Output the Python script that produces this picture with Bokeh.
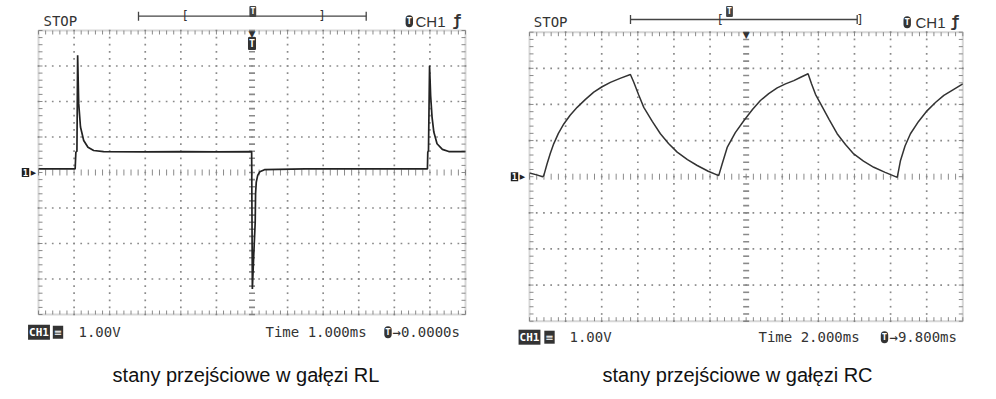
import numpy as np
from bokeh.plotting import figure
from bokeh.layouts import row
from bokeh.models import Label, Range1d, BoxAnnotation
from bokeh.embed import file_html
from bokeh.resources import INLINE

# ---------------- data (time in ms relative to screen centre, volts) ----------------
# RL branch: 1.00 V/div, 1.000 ms/div
rl_t = [-6.0, -5.5, -4.97, -4.95, -4.92, -4.90, -4.87, -4.82, -4.73, -4.61, -4.45, -4.17, -3.0, -2.0, -1.0, -0.01,
        0.01, 0.05, 0.09, 0.10, 0.12, 0.16, 0.22, 0.35, 1.5, 3.0, 4.93,
        4.94, 4.96, 4.99, 5.02, 5.06, 5.11, 5.20, 5.35, 5.53, 6.0]
rl_v = [0.10, 0.10, 0.10, 0.57, 0.60, 3.30, 1.94, 1.28, 0.90, 0.71, 0.62, 0.59, 0.58, 0.59, 0.58, 0.59,
        -3.28, -2.30, -1.40, -0.60, -0.27, -0.08, 0.02, 0.08, 0.10, 0.10, 0.10,
        0.57, 0.62, 3.01, 2.17, 1.56, 1.14, 0.81, 0.65, 0.59, 0.59]

# RC branch: 1.00 V/div, 2.000 ms/div
rc_t = [-12.0, -11.6, -11.27, -11.21, -11.03, -10.85, -10.66, -10.40, -10.10, -9.75, -9.36, -8.90, -8.44, -7.98, -7.52, -6.95, -6.41,
        -6.23, -5.95, -5.67, -5.20, -4.75, -4.30, -3.82, -3.25, -2.71, -2.10, -1.52,
        -1.33, -1.05, -0.60, -0.13, 0.35, 0.79, 1.25, 1.72, 2.18, 2.64, 3.05, 3.43,
        3.62, 3.84, 4.12, 4.60, 5.04, 5.50, 5.96, 6.50, 7.07, 7.70, 8.37,
        8.55, 8.80, 9.10, 9.55, 10.03, 10.50, 10.95, 11.50, 12.0]
rc_v = [0.10, 0.05, 0.0, 0.03, 0.35, 0.64, 0.91, 1.20, 1.46, 1.70, 1.92, 2.14, 2.34, 2.49, 2.61, 2.73, 2.83,
        2.62, 2.26, 1.92, 1.53, 1.19, 0.92, 0.68, 0.47, 0.31, 0.15, 0.03,
        0.35, 0.81, 1.22, 1.55, 1.86, 2.11, 2.30, 2.46, 2.57, 2.66, 2.76, 2.85,
        2.57, 2.28, 2.02, 1.58, 1.19, 0.89, 0.63, 0.43, 0.26, 0.12, -0.02,
        0.45, 0.85, 1.19, 1.53, 1.83, 2.06, 2.25, 2.42, 2.57]

rl_status = {"volt": "1.00V", "time": "Time 1.000ms", "trig": "\u21920.0000s"}
rc_status = {"volt": "1.00V", "time": "Time 2.000ms", "trig": "\u21929.800ms"}
rl_caption = "stany przejściowe w gałęzi RL"
rc_caption = "stany przejściowe w gałęzi RC"

# ---------------- layout ----------------
PAGE = 0
FIG_H = 398
MONO = "DejaVu Sans Mono"
SYM = "DejaVu Sans"
INK = "#333333"
GRID = "#8a8a8a"


def label(p, x, y, text, size="14px", font=MONO, color=INK, align="left",
          baseline="middle", bold=False, bg=None, pad=0, radius=0):
    kw = dict(x=x, y=y, text=text, text_font=font, text_font_size=size,
              text_color=color, text_align=align, text_baseline=baseline,
              text_font_style="bold" if bold else "normal")
    if bg is not None:
        kw.update(background_fill_color=bg, padding=pad, border_radius=radius)
    p.add_layout(Label(**kw))


def scope(t, v, cfg):
    msd = cfg["ms_per_div"]
    gx0, gx1, gy0, gy1 = cfg["grid_px"]
    fx0, fw = cfg["fig_x0"], cfg["fig_w"]
    ppx = (gx1 - gx0) / (12 * msd)
    ppy = (gy1 - gy0) / 8.0
    x_start = -6 * msd - (gx0 - fx0) / ppx
    x_end = x_start + fw / ppx
    y_end = 4 + (gy0 - PAGE) / ppy
    y_start = y_end - FIG_H / ppy

    def dx(px):
        return x_start + (px - fx0) / ppx

    def dy(py):
        return y_end - (py - PAGE) / ppy

    p = figure(width=fw, height=FIG_H, x_range=Range1d(x_start, x_end),
               y_range=Range1d(y_start, y_end), output_backend="svg",
               toolbar_location=None, title=None, x_axis_location=None,
               y_axis_location=None, min_border=0, outline_line_color=None,
               background_fill_color="white", border_fill_color="white")
    p.min_border_left = p.min_border_right = p.min_border_top = p.min_border_bottom = 0
    p.xgrid.visible = False
    p.ygrid.visible = False

    sub_x = np.arange(-30, 31) * 0.2 * msd
    sub_y = np.arange(-20, 21) * 0.2
    # dotted graticule
    vx, vy, hx, hy = [], [], [], []
    for k in range(-5, 6):
        if k == 0:
            continue
        vx += [k * msd] * len(sub_y)
        vy += list(sub_y)
    for j in range(-3, 4):
        if j == 0:
            continue
        hx += list(sub_x)
        hy += [j] * len(sub_x)
    p.scatter(vx + hx, vy + hy, marker="square", size=1.7, fill_color=GRID, line_color=None)
    # centre cross ticks
    p.scatter(sub_x, np.zeros_like(sub_x), marker="dash", angle=np.pi / 2, size=6,
              line_color=GRID, line_width=1)
    p.scatter(np.zeros_like(sub_y), sub_y, marker="dash", size=6, line_color=GRID, line_width=1.6)
    # border ticks (inside)
    off_y = 2.0 / ppy
    off_x = 2.0 / ppx
    p.scatter(list(sub_x) * 2, [4 - off_y] * len(sub_x) + [-4 + off_y] * len(sub_x),
              marker="dash", angle=np.pi / 2, size=4, line_color=GRID, line_width=1)
    p.scatter([-6 * msd + off_x] * len(sub_y) + [6 * msd - off_x] * len(sub_y), list(sub_y) * 2,
              marker="dash", size=4, line_color=GRID, line_width=1)
    p.add_layout(BoxAnnotation(left=-6 * msd, right=6 * msd, bottom=-4, top=4,
                               fill_color=None, line_color="#7a7a7a", line_width=2))

    # trace
    p.line(t, v, line_color=cfg["trace_color"], line_width=cfg["trace_width"])

    # header
    hd = cfg["header"]
    label(p, dx(hd["stop_x"]), dy(hd["y"]), "STOP")
    bx0, bx1, by = hd["bar"]
    p.segment([dx(bx0), dx(bx0), dx(bx1)], [dy(by), dy(by - 4.5), dy(by - 4.5)],
              [dx(bx1), dx(bx0), dx(bx1)], [dy(by), dy(by + 4.5), dy(by + 4.5)],
              line_color="#444444", line_width=1.3)
    label(p, dx(hd["lbr"]), dy(by), "[", size="12px")
    label(p, dx(hd["rbr"]), dy(by), "]", size="12px")
    label(p, dx(hd["tmark"]), dy(11), "T", size="8px", bold=True, color="white",
          align="center", bg="#444444", pad=1, radius=1)
    label(p, dx(hd["ticon"]), dy(hd["y"]), "T", size="9px", bold=True, color="white",
          align="center", bg="#333333", pad=1, radius=5)
    label(p, dx(hd["ch1_x"]), dy(hd["y"]), "CH1", font="Liberation Sans", size="15px")
    label(p, dx(hd["slope_x"]), dy(hd["y"]), "\u0192", size="15px", bold=True)

    # trigger position marker and ground marker
    label(p, dx(cfg["trig_px"]), dy(gy0 + 3), "\u25BC", font=SYM, size="9px",
          align="center", color="#333333")
    if cfg["trig_box"]:
        label(p, dx(cfg["trig_px"]), dy(gy0 + 13), "T", size="10px", bold=True, color="white",
              align="center", bg="#333333", pad=1, radius=1)
    gx_m = cfg["gnd_px"]
    label(p, dx(gx_m), 0, "1", size="9px", bold=True, color="white", align="center",
          bg="#222222", pad=1)
    label(p, dx(gx_m + 8), 0, "\u25B6", font=SYM, size="7px", align="center", color="#222222")

    # status line
    st = cfg["status"]
    sy = dy(st["y"])
    label(p, dx(st["ch_x"]), sy, "CH1", size="11px", bold=True, color="white",
          align="center", bg="#333333", pad=1)
    label(p, dx(st["dc_x"]), sy, "\u2261", font=SYM, size="10px", color="white",
          align="center", bg="#333333", pad=1)
    label(p, dx(st["volt_x"]), sy, cfg["texts"]["volt"])
    label(p, dx(st["time_x"]), sy, cfg["texts"]["time"])
    label(p, dx(st["ticon"]), sy, "T", size="9px", bold=True, color="white",
          align="center", bg="#333333", pad=1, radius=5)
    label(p, dx(st["trig_x"]), sy, cfg["texts"]["trig"])

    # caption
    label(p, dx(cfg["cap_x"]), dy(374), cfg["caption"], font="Liberation Sans",
          size="20px", color="#111111", align="center", baseline="alphabetic")
    return p


rl_cfg = dict(ms_per_div=1.0, grid_px=(38, 465, 30, 314), fig_x0=0, fig_w=488,
              trace_color="#222222", trace_width=1.7,
              header=dict(stop_x=43, y=20.7, bar=(138, 365.7, 15.7), lbr=181, rbr=318,
                          tmark=252.3, ticon=408.8, ch1_x=415, slope_x=452),
              trig_px=251.5, trig_box=True, gnd_px=25,
              status=dict(y=331.7, ch_x=38.5, dc_x=57.5, volt_x=78, time_x=265,
                          ticon=387.5, trig_x=392),
              texts=rl_status, caption=rl_caption, cap_x=245.5)

rc_cfg = dict(ms_per_div=2.0, grid_px=(529, 962.3, 31.7, 320.7), fig_x0=488, fig_w=507,
              trace_color="#333333", trace_width=1.5,
              header=dict(stop_x=533.3, y=21.7, bar=(630, 856.7, 19), lbr=716, rbr=856,
                          tmark=729, ticon=906.7, ch1_x=915, slope_x=950),
              trig_px=745.7, trig_box=False, gnd_px=514,
              status=dict(y=336.7, ch_x=529, dc_x=549, volt_x=569, time_x=758,
                          ticon=884, trig_x=889),
              texts=rc_status, caption=rc_caption, cap_x=737)

p_rl = scope(rl_t, rl_v, rl_cfg)
p_rc = scope(rc_t, rc_v, rc_cfg)
layout = row(p_rl, p_rc)

open("out.html", "w").write(file_html(layout, INLINE))
